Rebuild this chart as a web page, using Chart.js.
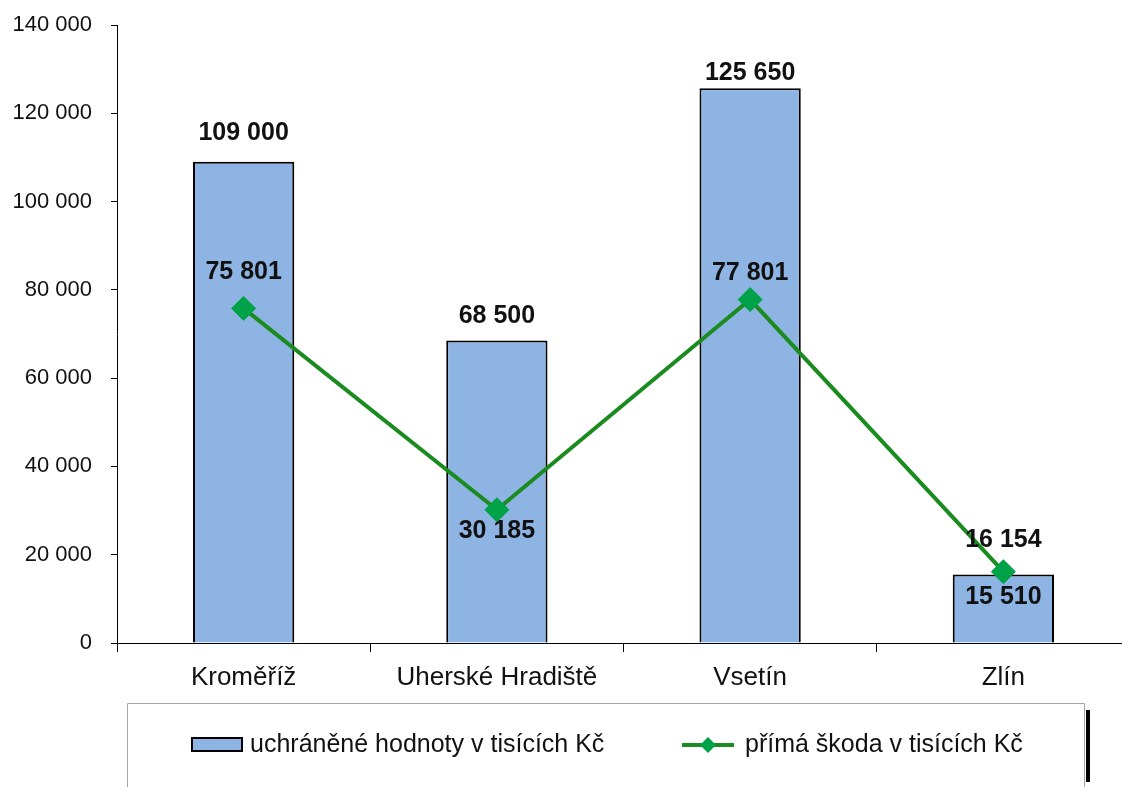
<!DOCTYPE html>
<html>
<head>
<meta charset="utf-8">
<script src="https://cdn.jsdelivr.net/npm/chart.js@4.4.1/dist/chart.umd.min.js"></script>
<style>
  html, body { margin: 0; padding: 0; background: #fff; overflow: hidden; }
  #wrap { width: 1140px; height: 787px; }
</style>
</head>
<body>
<div id="wrap"><canvas id="fireChart" width="1140" height="787"></canvas></div>
<script>
// Data
const districts = ['Kroměříž', 'Uherské Hradiště', 'Vsetín', 'Zlín'];
const savedValues = [109000, 68500, 125650, 15510];   // uchráněné hodnoty
const directDamage = [75801, 30185, 77801, 16154];    // přímá škoda
const yTicks = [0, 20000, 40000, 60000, 80000, 100000, 120000, 140000];

const savedLabel = 'uchráněné hodnoty v tisících Kč';
const damageLabel = 'přímá škoda v tisících Kč';

// label placement (pixels from bar top / point centre, negative = up)
const barLabelShift = [-29, -25, -15, 23];
const lineLabelShift = [-36, 21, -26, -32];

const FONT = '"Liberation Sans", Arial, sans-serif';
const BAR_FILL = '#8db4e2';
const LINE_GREEN = '#1a8c1f';
const MARK_GREEN = '#00a248';

function fmt(v) {
    return String(v).replace(/\B(?=(\d{3})+(?!\d))/g, ' ');
}

function diamond(ctx, x, y, r) {
    ctx.beginPath();
    ctx.moveTo(x, y - r);
    ctx.lineTo(x + r, y);
    ctx.lineTo(x, y + r);
    ctx.lineTo(x - r, y);
    ctx.closePath();
}

// value labels over bars and points
const valueLabels = {
    id: 'valueLabels',
    afterDatasetsDraw(chart) {
        const ctx = chart.ctx;
        ctx.save();
        ctx.font = 'bold 25px ' + FONT;
        ctx.fillStyle = '#111';
        ctx.textAlign = 'center';
        ctx.textBaseline = 'middle';
        chart.getDatasetMeta(0).data.forEach((bar, i) => {
            ctx.fillText(fmt(savedValues[i]), bar.x, bar.y + barLabelShift[i]);
        });
        chart.getDatasetMeta(1).data.forEach((pt, i) => {
            ctx.fillText(fmt(directDamage[i]), pt.x, pt.y + lineLabelShift[i]);
        });
        ctx.restore();
    }
};

// legend box under the chart
const boxLegend = {
    id: 'boxLegend',
    afterDraw(chart) {
        const ctx = chart.ctx;
        ctx.save();
        ctx.strokeStyle = '#a6a6a6';
        ctx.lineWidth = 1;
        ctx.beginPath();
        ctx.moveTo(127.5, 790);
        ctx.lineTo(127.5, 703.5);
        ctx.lineTo(1084.5, 703.5);
        ctx.lineTo(1084.5, 790);
        ctx.stroke();
        ctx.fillStyle = '#000';
        ctx.fillRect(1086, 710, 4, 72);

        const yMid = 745;
        ctx.fillStyle = BAR_FILL;
        ctx.fillRect(192, 738, 50, 13);
        ctx.strokeStyle = '#000';
        ctx.lineWidth = 2;
        ctx.strokeRect(192, 738, 50, 13);

        ctx.strokeStyle = LINE_GREEN;
        ctx.lineWidth = 4;
        ctx.beginPath();
        ctx.moveTo(682, yMid);
        ctx.lineTo(734, yMid);
        ctx.stroke();
        ctx.fillStyle = MARK_GREEN;
        diamond(ctx, 708, yMid, 8);
        ctx.fill();

        ctx.fillStyle = '#111';
        ctx.font = '25px ' + FONT;
        ctx.textAlign = 'left';
        ctx.textBaseline = 'middle';
        ctx.fillText(savedLabel, 250, yMid);
        ctx.fillText(damageLabel, 745, yMid);
        ctx.restore();
    }
};

const ctx = document.getElementById('fireChart').getContext('2d');
new Chart(ctx, {
    type: 'bar',
    data: {
        labels: districts,
        datasets: [{
            label: savedLabel,
            data: savedValues,
            backgroundColor: BAR_FILL,
            borderColor: '#000',
            borderWidth: 2,
            barPercentage: 0.8,
            categoryPercentage: 0.5,
            order: 1
        }, {
            type: 'line',
            label: damageLabel,
            data: directDamage,
            borderColor: LINE_GREEN,
            borderWidth: 4,
            pointStyle: 'rectRot',
            pointRadius: 12,
            pointBackgroundColor: MARK_GREEN,
            pointBorderColor: MARK_GREEN,
            pointBorderWidth: 1,
            tension: 0,
            order: 0
        }]
    },
    options: {
        responsive: false,
        animation: false,
        layout: { autoPadding: false, padding: { left: 0, right: 10, top: 25, bottom: 84 } },
        plugins: {
            legend: { display: false },
            tooltip: { enabled: false }
        },
        scales: {
            x: {
                grid: { drawOnChartArea: false, tickLength: 9, color: '#000', offset: true },
                border: { color: '#000', width: 1 },
                ticks: { color: '#111', padding: 10, font: { family: FONT, size: 26 } },
                afterFit(scale) {
                    scale.height = 60;
                    scale.paddingLeft = 0;
                    scale.paddingRight = 0;
                }
            },
            y: {
                min: 0,
                max: 140000,
                afterBuildTicks(scale) { scale.ticks = yTicks.map(v => ({ value: v })); },
                grid: { drawOnChartArea: false, tickLength: 6, color: '#000' },
                border: { color: '#000', width: 1 },
                ticks: {
                    color: '#111',
                    padding: 19,
                    font: { family: FONT, size: 22 },
                    callback: v => fmt(v)
                },
                afterFit(scale) {
                    scale.width = 117;
                    scale.paddingTop = 0;
                    scale.paddingBottom = 0;
                }
            }
        }
    },
    plugins: [valueLabels, boxLegend]
});
</script>
</body>
</html>
